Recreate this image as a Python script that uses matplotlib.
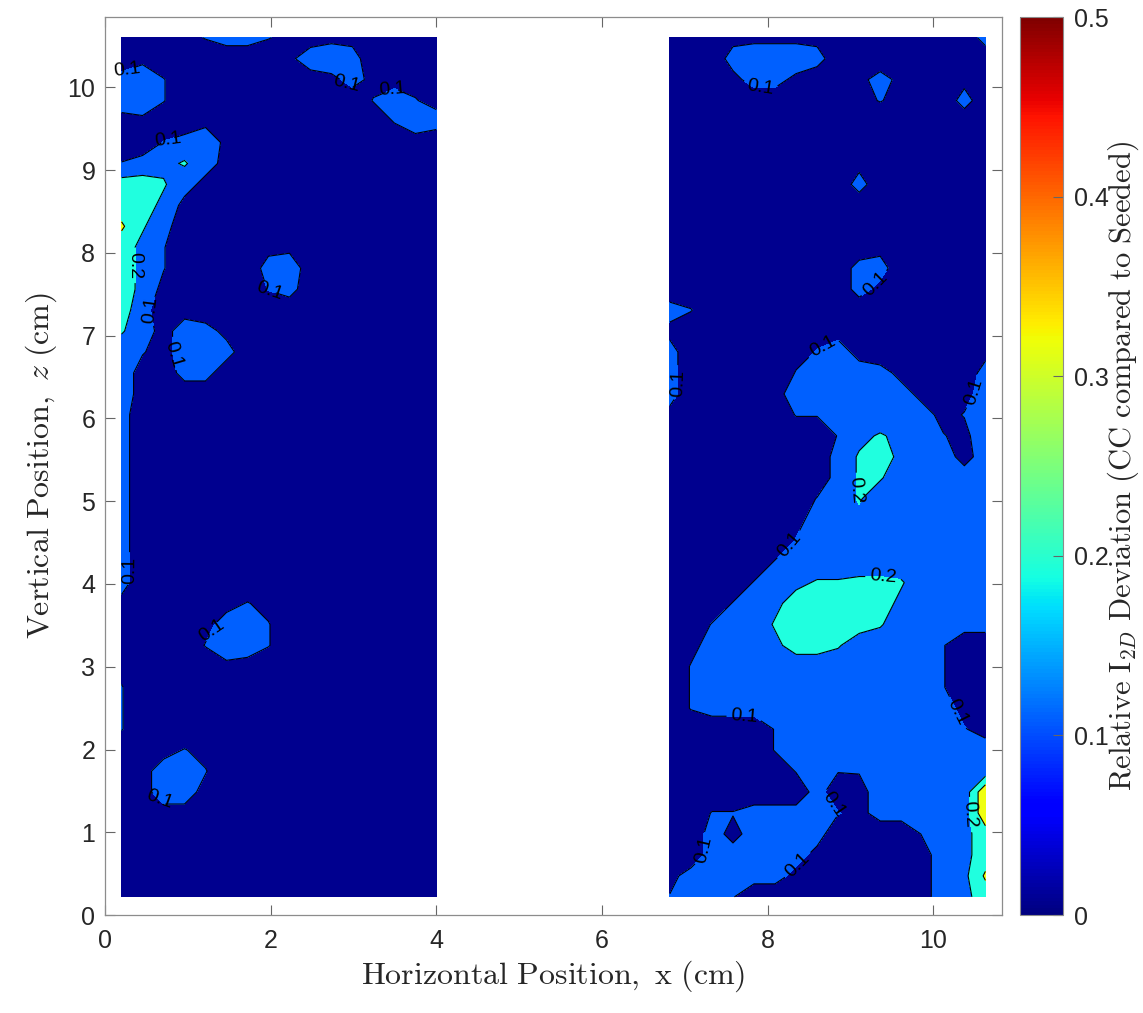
"""I2D deviation map (CC compared to seeded) - filled contour of two windows."""
import matplotlib
matplotlib.use("Agg")
import matplotlib.pyplot as plt
import numpy as np
from matplotlib.cm import ScalarMappable
from matplotlib.colors import Normalize

# grid of the two measurement windows (cm)
left_x = np.linspace(0.2, 4.0, 16)
right_x = np.linspace(6.82, 10.63, 16)
grid_z = np.linspace(0.22, 10.6, 42)

# read-off deviation values, one character per grid node (base-36 digit x 0.035),
# first string is the top row (z = 10.6), last string is the bottom row (z = 0.22)
UNIT = 0.035
left_rows = [
    "1112344321222111",
    "1211111125541111",
    "4531111111242221",
    "4531111111113432",
    "2211221111111344",
    "1134521111111121",
    "3456421111111111",
    "7764211111111111",
    "7752111111111111",
    "9641111111111111",
    "7531111221111111",
    "7531111451111111",
    "7521111341111111",
    "7412111111111111",
    "6424421111111111",
    "4324541111111111",
    "4214411111111111",
    "4211111111111111",
    "4111111111111111",
    "4111111111111111",
    "4111111111111111",
    "4111111111111111",
    "4111111111111111",
    "4111111111111111",
    "4111111111111111",
    "4111111111111111",
    "4111111111111111",
    "2111123211111111",
    "1111244311111111",
    "1111354311111111",
    "2111122111111111",
    "3111111111111111",
    "3111111111111111",
    "3111111111111111",
    "1123211111111111",
    "1245311111111111",
    "1244211111111111",
    "1122111111111111",
    "1111111111111111",
    "1111111111111111",
    "1111111111111111",
    "1111111111111111",
]
right_rows = [
    "1112222211111114",
    "1114555411111111",
    "1112442112421121",
    "1111111112321141",
    "1111111111111111",
    "1111111111111111",
    "1111111112111111",
    "1111111114111111",
    "1111111111111111",
    "1111111111111111",
    "1111111111211111",
    "1111111114411111",
    "1111111114211111",
    "4311111111111111",
    "2111111221111111",
    "4111112342111112",
    "4111113444421114",
    "4111124444442124",
    "2111113344444234",
    "1111111135654325",
    "1111111146754424",
    "1111111146644444",
    "1111111346444444",
    "1111112445444444",
    "1111113444444444",
    "1111134445544444",
    "1111345666664444",
    "1113457777754444",
    "1134467777644444",
    "1244457764444311",
    "1344444444444311",
    "1344444444444311",
    "1344444444444421",
    "1111134444444432",
    "1111134444444444",
    "1111113433444444",
    "111111141244444b",
    "113344443244444b",
    "1142444411113457",
    "1144444211112457",
    "2444442111112459",
    "3433111111112457",
]

levels = [0.0, 0.1, 0.2, 0.3, 0.4, 0.5]
cbar_ticks = [0, 0.1, 0.2, 0.3, 0.4, 0.5]
cbar_ticklabels = ["0", "0.1", "0.2", "0.3", "0.4", "0.5"]

# MATLAB jet(64) colours at the lower bound of each band
fill_colors = ["#00008F", "#0060FF", "#20FFDF", "#EFFF10", "#FF4000"]


def decode(rows):
    vals = np.array([[int(ch, 36) for ch in r] for r in rows], dtype=float) * UNIT
    return vals[::-1]


def main() -> None:
    plt.rcParams["mathtext.fontset"] = "cm"
    plt.rcParams["font.family"] = ["Liberation Sans", "DejaVu Sans"]

    fig = plt.figure(figsize=(11.43, 10.13), dpi=100)
    ax = fig.add_axes([0.0919, 0.0967, 0.7847, 0.8865])

    # label anchor points (data coords) picked near the labels of the original
    left_labels = [(2.93, 10.23), (3.47, 9.87), (0.28, 9.96), (0.76, 9.32),
                   (0.39, 7.85), (0.48, 7.37), (0.81, 6.76), (1.99, 7.68),
                   (0.28, 4.17), (1.29, 3.42), (0.66, 1.45)]
    right_labels = [(7.91, 9.99), (9.19, 7.73), (8.66, 6.88), (6.90, 6.43),
                    (10.41, 6.34), (9.02, 5.13), (8.27, 4.47), (9.41, 4.19),
                    (7.72, 2.44), (10.36, 2.48), (8.88, 1.39), (10.41, 1.21),
                    (7.31, 0.79), (8.43, 0.54)]

    for xs, rows, lab_pos in [(left_x, left_rows, left_labels),
                              (right_x, right_rows, right_labels)]:
        z = decode(rows)
        ax.contourf(xs, grid_z, z, levels=levels, colors=fill_colors)
        cl = ax.contour(xs, grid_z, z, levels=levels[1:4], colors="k", linewidths=0.8)
        ax.clabel(cl, fmt="%.1f", fontsize=14, manual=lab_pos, inline=True)

    ax.set_xlim(0, 10.83)
    ax.set_ylim(0, 10.85)
    ax.set_xticks(range(0, 11, 2))
    ax.set_yticks(range(0, 11))
    ax.tick_params(direction="in", top=True, right=True, length=7, width=0.8,
                   color="0.4", labelcolor="#262626", labelsize=18)
    ax.tick_params(axis="x", pad=10)
    ax.tick_params(axis="y", pad=7)
    for sp in ax.spines.values():
        sp.set_color("0.55")
        sp.set_linewidth(0.9)

    ax.set_xlabel(r"$\mathrm{Horizontal\ Position,\ x\ (cm)}$", fontsize=23,
                  color="#262626", labelpad=4)
    ax.set_ylabel(r"$\mathrm{Vertical\ Position,}\ z\ \mathrm{(cm)}$", fontsize=23,
                  color="#262626", labelpad=6)

    # colorbar
    cax = fig.add_axes([0.8924, 0.0967, 0.0376, 0.8865])
    sm = ScalarMappable(norm=Normalize(0, 0.5), cmap="jet")
    cbar = fig.colorbar(sm, cax=cax, ticks=cbar_ticks)
    cbar.ax.set_yticklabels(cbar_ticklabels)
    cbar.ax.tick_params(direction="in", length=7, width=0.8, color="0.4",
                        labelcolor="#262626", labelsize=18, pad=8)
    cbar.outline.set_edgecolor("0.55")
    cbar.set_label(r"$\mathrm{Relative\ I}_{2D}\mathrm{\ Deviation\ (CC\ compared\ to\ Seeded)}$",
                   fontsize=22, color="#262626")
    cbar.ax.yaxis.set_label_coords(2.0, 0.5)

    fig.savefig("out.png", dpi=100)


if __name__ == "__main__":
    main()
